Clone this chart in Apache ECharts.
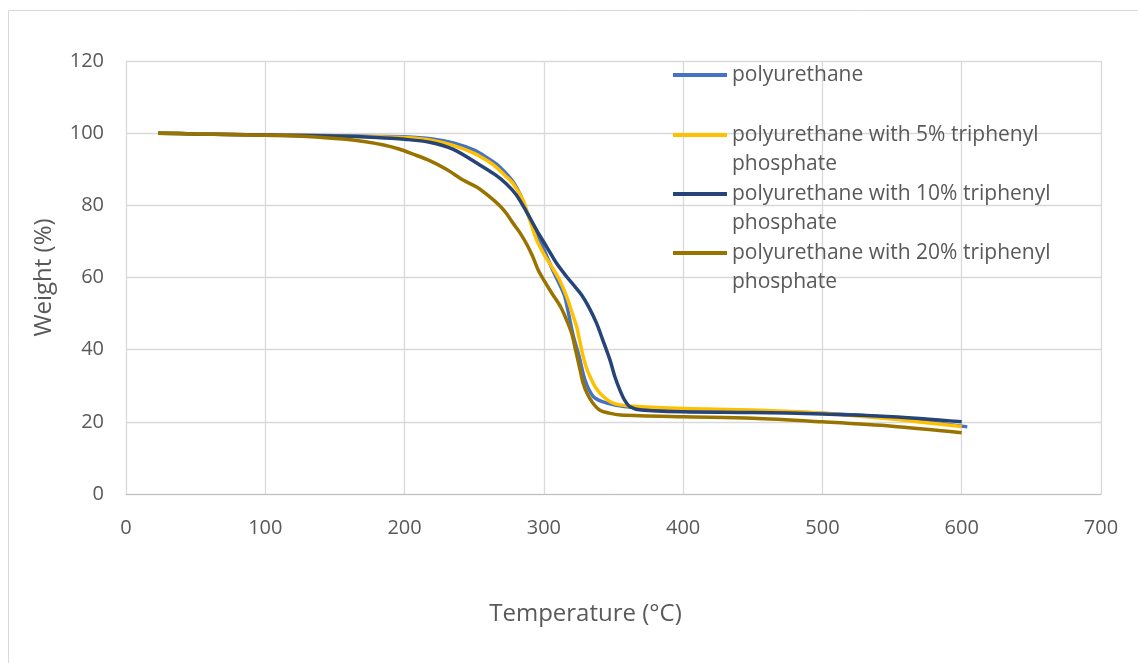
<!DOCTYPE html>
<html>
<head>
<meta charset="utf-8">
<script src="https://cdn.jsdelivr.net/npm/echarts@6/dist/echarts.min.js"></script>
<style>
html, body { margin: 0; padding: 0; background: #fff; }
#chart { width: 1138px; height: 663px; }
</style>
</head>
<body>
<div id="chart"></div>
<script>
// series names
var names = [
    'polyurethane',
    'polyurethane with 5% triphenyl phosphate',
    'polyurethane with 10% triphenyl phosphate',
    'polyurethane with 20% triphenyl phosphate'
];

// [temperature (°C), weight (%)]
var pu = [[23,100],[50,99.8],[100,99.5],[150,99.3],[180,99.1],[200,99],[220,98.4],[235,97.3],[250,95.3],[260,93],[266,91.4],[272,89.2],[278,86.5],[283,83],[288,78],[292,74.5],[297,70.5],[302,66],[307,61.5],[312,57.5],[315,54.7],[318,49.5],[321,44],[325.4,38],[329.5,31.6],[335.5,27],[342,25.6],[352,24.6],[365,24],[400,23.2],[450,22.9],[500,22.4],[550,21.1],[604,18.6]];

var pu5 = [[23,100],[50,99.8],[100,99.5],[150,99.2],[180,99],[200,98.8],[220,98],[235,96.6],[250,94.4],[260,92.2],[266,90.5],[272,88.3],[278,86],[285,81.5],[288,78.2],[294.8,70.4],[300,66.5],[305.6,63],[311,59.5],[316.4,54.7],[320,50.5],[323.5,46.4],[326,42],[328.3,38],[331,34.5],[334.3,31.6],[338,29],[342.7,27],[348,25.5],[354.6,24.7],[370,24.2],[400,23.7],[450,23.3],[500,22.4],[550,20.8],[600,18.7]];

var pu10 = [[23,100],[50,99.8],[100,99.5],[150,99.2],[180,98.8],[200,98.3],[218,97.5],[235,95.5],[254,91.2],[265,88.5],[273,86],[280,83],[287.6,78.2],[295,73],[302,68.5],[309,64],[316.4,60.2],[322,57.6],[327,55.2],[332,52],[337.9,47.3],[342,43],[347.5,37.1],[351,32.5],[354.6,28.8],[358,26],[361.8,24.2],[370,23.3],[400,22.8],[450,22.6],[500,22.2],[550,21.4],[600,20]];

var pu20 = [[23,100],[50,99.8],[100,99.4],[130,99.1],[158,98.3],[172,97.6],[185,96.7],[196,95.6],[206,94.2],[218,92.4],[230,90],[242,87],[252,85],[261,82.4],[268,80],[273,77.8],[278,75],[283,72.3],[288,69],[292,65.8],[296,62],[300,59.3],[306,55.5],[312,51.9],[316,48.5],[320,44.5],[323,39.5],[326,34.4],[328,31],[331,27.9],[335,25.3],[340,23.3],[347,22.4],[355,21.9],[400,21.4],[450,21],[500,20],[550,18.8],[600,17]];

var seriesData = [pu, pu5, pu10, pu20];
var colors = ['#4472C4', '#FFC000', '#264478', '#997300'];

// legend text as shown (wrapped lines), first line aligned with icon
var legendText = [
    'polyurethane',
    ' \npolyurethane with 5% triphenyl\nphosphate',
    ' \npolyurethane with 10% triphenyl\nphosphate',
    ' \npolyurethane with 20% triphenyl\nphosphate'
];
var legendIconY = [75, 135, 194, 253];

var font = '"Open Sans", sans-serif';
var lh = 29.5;

var myChart = echarts.init(document.getElementById('chart'));

var legends = names.map(function (n, i) {
    var multi = i > 0;
    return {
        show: true,
        left: 673,
        top: multi ? legendIconY[i] - 1.5 * lh : legendIconY[i] - lh / 2,
        orient: 'vertical',
        data: [n],
        icon: 'rect',
        itemWidth: 54,
        itemHeight: 4,
        padding: 0,
        selectedMode: false,
        formatter: function () { return legendText[i]; },
        textStyle: {
            fontFamily: font,
            fontSize: 21,
            color: '#595959',
            lineHeight: lh
        }
    };
});

myChart.setOption({
    animation: false,
    color: colors,
    graphic: [{
        type: 'rect',
        shape: { x: 8.5, y: 10.5, width: 1200, height: 700 },
        style: { fill: 'none', stroke: '#d9d9d9', lineWidth: 1 },
        silent: true
    }],
    legend: legends,
    grid: {
        left: 126,
        right: 37,
        top: 61,
        bottom: 169,
        containLabel: false
    },
    xAxis: {
        type: 'value',
        min: 0,
        max: 700,
        interval: 100,
        name: 'Temperature (°C)',
        nameLocation: 'middle',
        nameGap: 108,
        nameTextStyle: { fontFamily: font, fontSize: 24, color: '#595959', padding: [0, 56, 0, 0] },
        axisLine: { show: true, lineStyle: { color: '#bfbfbf', width: 1 } },
        axisTick: { show: false },
        axisLabel: { fontFamily: font, fontSize: 20, color: '#595959', margin: 24 },
        splitLine: { show: true, lineStyle: { color: '#d9d9d9', width: 1.3 } }
    },
    yAxis: {
        type: 'value',
        min: 0,
        max: 120,
        interval: 20,
        name: 'Weight (%)',
        nameLocation: 'middle',
        nameGap: 70,
        nameTextStyle: { fontFamily: font, fontSize: 24, color: '#595959' },
        axisLine: { show: true, lineStyle: { color: '#d9d9d9', width: 1 } },
        axisTick: { show: false },
        axisLabel: { fontFamily: font, fontSize: 20, color: '#595959', margin: 22 },
        splitLine: { show: true, lineStyle: { color: '#d9d9d9', width: 1.3 } }
    },
    series: names.map(function (n, i) {
        return {
            name: n,
            type: 'line',
            data: seriesData[i],
            symbol: 'none',
            smooth: 0.3,
            lineStyle: { width: 3.5, color: colors[i] },
            itemStyle: { color: colors[i] }
        };
    })
});
</script>
</body>
</html>
